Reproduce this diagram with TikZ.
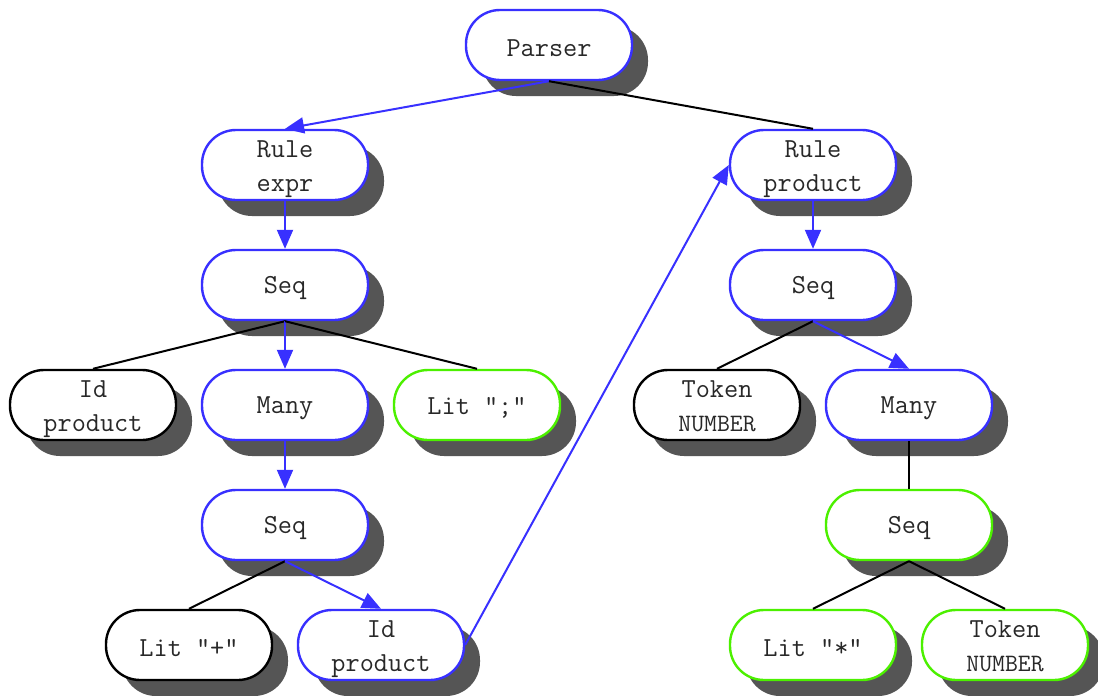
\documentclass[tikz,border=0pt]{standalone}
\usepackage{fontspec}
\setmonofont{Latin Modern Mono}
\usetikzlibrary{shadows,arrows.meta}
\definecolor{nblue}{RGB}{56,48,255}
\definecolor{ngreen}{RGB}{76,240,0}
\definecolor{shgray}{RGB}{85,85,85}
\definecolor{txt}{RGB}{40,40,40}
\tikzset{
 box/.style={rectangle, rounded corners=34pt, minimum width=166pt, minimum height=70pt, inner sep=0pt, fill=white, line width=2.4pt, draw, align=center, font=\fontsize{27.5}{34}\selectfont\ttfamily, text=txt, drop shadow={shadow xshift=16pt, shadow yshift=-16pt, fill=shgray, opacity=1}},
 bbox/.style={box, draw=nblue},
 gbox/.style={box, draw=ngreen},
 kbox/.style={box, draw=black},
 conn/.style={line width=2pt, black},
 barr/.style={line width=2pt, nblue, -{Triangle[length=19pt,width=16pt]}},
}
\newcommand{\smalltt}[1]{{\fontsize{25}{34}\selectfont #1}}
\newcommand{\one}[1]{\raisebox{-3pt}[\height][\depth]{#1}}
\newcommand{\two}[2]{\raisebox{-3pt}[\height][\depth]{\begin{tabular}{@{}c@{}}#1\\#2\end{tabular}}}
\begin{document}
\begin{tikzpicture}[x=1pt,y=-1pt]
\useasboundingbox[fill=white] (0,0) rectangle (1098,696);
\node[bbox] (parser) at (549,45) {\one{Parser}};
\node[bbox] (rexpr) at (285,165) {\two{Rule}{expr}};
\node[bbox] (rprod) at (813,165) {\two{Rule}{product}};
\node[bbox] (seq1) at (285,285) {\one{Seq}};
\node[bbox] (seq2) at (813,285) {\one{Seq}};
\node[kbox] (id1) at (93,405) {\two{Id}{product}};
\node[bbox] (many1) at (285,405) {\one{Many}};
\node[gbox] (litsemi) at (477,405) {\one{Lit ";"}};
\node[kbox] (tok1) at (717,405) {\two{Token}{\smalltt{NUMBER}}};
\node[bbox] (many2) at (909,405) {\one{Many}};
\node[bbox] (seq3) at (285,525) {\one{Seq}};
\node[gbox] (seq4) at (909,525) {\one{Seq}};
\node[kbox] (litplus) at (189,645) {\one{Lit "+"}};
\node[bbox] (id2) at (381,645) {\two{Id}{product}};
\node[gbox] (litstar) at (813,645) {\one{Lit "*"}};
\node[gbox] (tok2) at (1005,645) {\two{Token}{\smalltt{NUMBER}}};

\draw[barr] (parser.south) -- (rexpr.north);
\draw[conn] (parser.south) -- (rprod.north);
\draw[barr] (rexpr.south) -- (seq1.north);
\draw[conn] (seq1.south) -- (id1.north);
\draw[barr] (seq1.south) -- (many1.north);
\draw[conn] (seq1.south) -- (litsemi.north);
\draw[barr] (many1.south) -- (seq3.north);
\draw[conn] (seq3.south) -- (litplus.north);
\draw[barr] (seq3.south) -- (id2.north);
\draw[barr] (id2.east) -- (rprod.west);
\draw[barr] (rprod.south) -- (seq2.north);
\draw[conn] (seq2.south) -- (tok1.north);
\draw[barr] (seq2.south) -- (many2.north);
\draw[conn] (many2.south) -- (seq4.north);
\draw[conn] (seq4.south) -- (litstar.north);
\draw[conn] (seq4.south) -- (tok2.north);
\end{tikzpicture}
\end{document}
